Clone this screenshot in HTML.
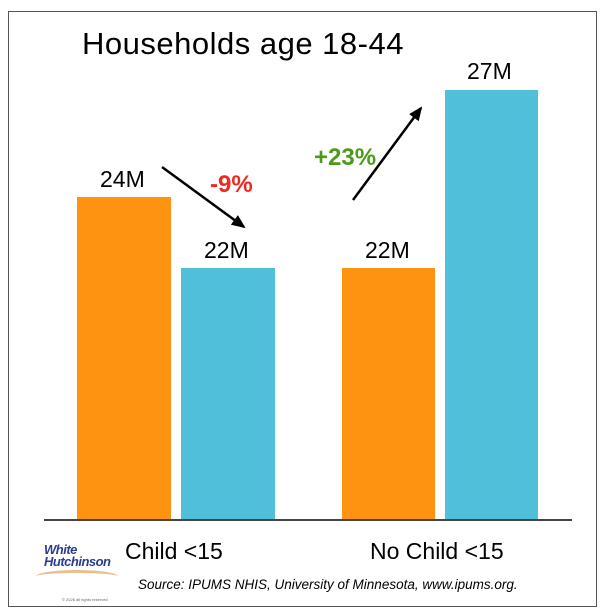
<!DOCTYPE html>
<html><head><style>
body{margin:0;width:600px;height:616px;background:#fff;font-family:"Liberation Sans",sans-serif;position:relative;overflow:hidden}
.b{position:absolute}
.t{position:absolute;color:#000;white-space:nowrap}
</style></head><body>
<div class="b" style="left:8px;top:11px;width:587px;height:594px;border:1px solid #555"></div>
<div class="t" style="left:82px;top:26px;font-size:31px;letter-spacing:0.5px">Households age 18-44</div>
<div class="b" style="left:77px;top:197px;width:94px;height:322px;background:#fd9310"></div>
<div class="b" style="left:181px;top:268px;width:94px;height:251px;background:#50bfd9"></div>
<div class="b" style="left:342px;top:268px;width:93px;height:251px;background:#fd9310"></div>
<div class="b" style="left:445px;top:90px;width:93px;height:429px;background:#50bfd9"></div>
<div class="b" style="left:44px;top:519px;width:528px;height:2px;background:#444"></div>
<div class="t" style="left:100px;top:166px;font-size:23px">24M</div>
<div class="t" style="left:204px;top:237px;font-size:23px">22M</div>
<div class="t" style="left:365px;top:237px;font-size:23px">22M</div>
<div class="t" style="left:467px;top:58px;font-size:23px">27M</div>
<div class="t" style="left:210px;top:171px;font-size:24px;color:#f0281e;font-weight:bold">-9%</div>
<div class="t" style="left:314px;top:144px;font-size:24px;color:#4c9a1a;font-weight:bold">+23%</div>
<svg class="b" style="left:0;top:0" width="600" height="616">
<defs><marker id="a" markerWidth="14" markerHeight="12" refX="12" refY="6" orient="auto" markerUnits="userSpaceOnUse"><path d="M0,0 L14,6 L0,12z" fill="#000"/></marker></defs>
<line x1="162" y1="167" x2="244" y2="227" stroke="#000" stroke-width="2.5" marker-end="url(#a)"/>
<line x1="353" y1="200" x2="421" y2="108" stroke="#000" stroke-width="2.5" marker-end="url(#a)"/>
</svg>
<div class="t" style="left:125px;top:538px;font-size:23px">Child &lt;15</div>
<div class="t" style="left:370px;top:538px;font-size:23px">No Child &lt;15</div>
<div class="t" style="left:138px;top:577px;font-size:13.5px;font-style:italic">Source: IPUMS NHIS, University of Minnesota, www.ipums.org.</div>
<div class="t" style="left:44px;top:544px;font-size:13px;font-style:italic;font-weight:bold;color:#2a3d8f;line-height:12px;letter-spacing:-0.5px">White<br>Hutchinson</div>
<div class="b" style="left:36px;top:570px;width:82px;height:10px;border-top:3px solid #e8c090;border-radius:50%"></div>
<div class="t" style="left:62px;top:597px;font-size:4px;color:#666">© 2026 all rights reserved</div>
</body></html>
